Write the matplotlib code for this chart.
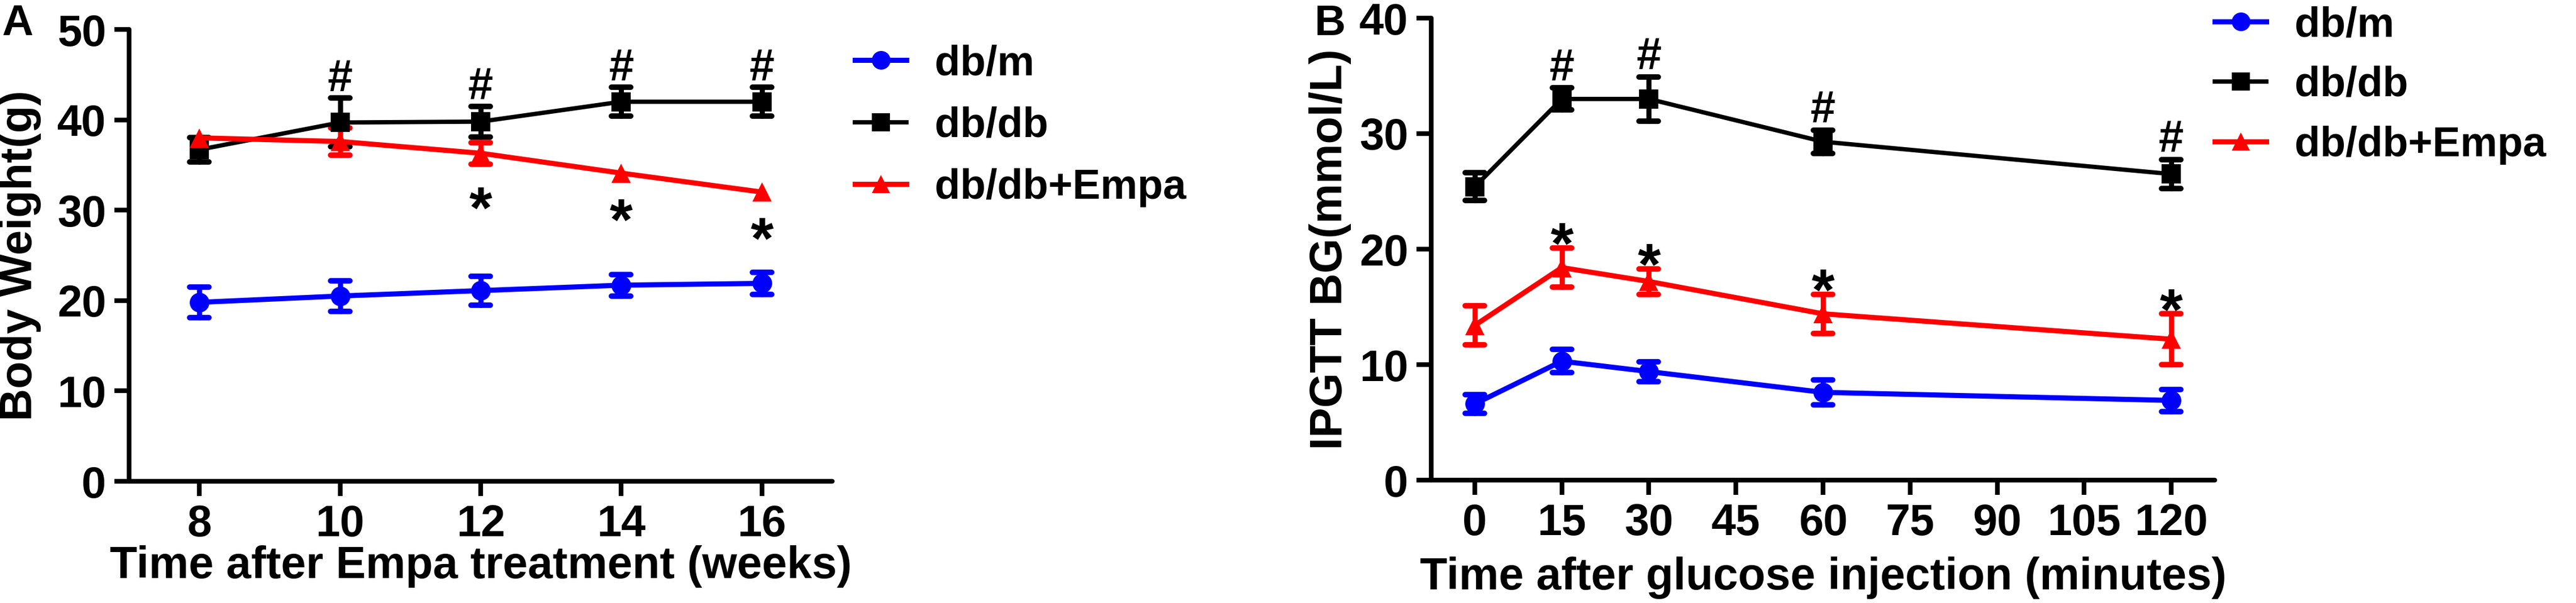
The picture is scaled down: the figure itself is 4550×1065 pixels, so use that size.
import matplotlib
matplotlib.use('Agg')
import matplotlib.pyplot as plt
from matplotlib.markers import MarkerStyle

# panel A: body weight (g), mean and sem
weeks = [8, 10, 12, 14, 16]
bw_dbm = [19.8, 20.5, 21.1, 21.7, 21.9]
bw_dbm_sem = [1.7, 1.7, 1.6, 1.2, 1.2]
bw_dbdb = [36.7, 39.7, 39.8, 42.0, 42.0]
bw_dbdb_sem = [1.35, 2.7, 1.7, 1.6, 1.6]
bw_empa = [38.0, 37.6, 36.3, 34.1, 32.0]
bw_empa_sem = [0.3, 1.5, 1.2, 0.3, 0.3]
hash_A = [10, 12, 14, 16]
star_A = [12, 14, 16]

# panel B: IPGTT blood glucose (mmol/L)
minutes = [0, 15, 30, 60, 120]
bg_dbm = [6.6, 10.3, 9.4, 7.6, 6.9]
bg_dbm_sem = [0.8, 1.0, 0.85, 1.1, 0.95]
bg_dbdb = [25.4, 33.0, 33.0, 29.3, 26.5]
bg_dbdb_sem = [1.2, 0.95, 1.9, 1.0, 1.25]
bg_empa = [13.4, 18.4, 17.2, 14.4, 12.2]
bg_empa_sem = [1.7, 1.7, 1.1, 1.7, 2.2]
hash_B = [15, 30, 60, 120]
star_B = [15, 30, 60, 120]

labels = ['db/m', 'db/db', 'db/db+Empa']
colors = ['#0000ff', '#000000', '#ff0000']
markers = ['o', 's', '^']
widths = [6.5, 5.5, 6.5]

plt.rcParams['font.family'] = ['Liberation Sans', 'DejaVu Sans']
plt.rcParams['font.weight'] = 'bold'
plt.rcParams['axes.labelweight'] = 'bold'

W, H = 4550, 1065
fig = plt.figure(figsize=(W / 100, H / 100), dpi=100)
axA = fig.add_axes([228 / W, 1 - 850 / H, (1470 - 228) / W, (850 - 52) / H])
axB = fig.add_axes([2528 / W, 1 - 848 / H, (3912 - 2528) / W, (848 - 32) / H])


def draw_series(ax, x, y, err, i):
    # like prism: bars shorter than the symbol are not drawn
    show = [e > 0.5 for e in err]
    line, caps, bars = ax.errorbar(x, y, yerr=err, color=colors[i], marker=markers[i],
                                   ms=25, lw=widths[i], elinewidth=6.5,
                                   capsize=24, capthick=7, errorevery=show)
    line.set_markeredgewidth(0)
    for c in caps:
        c.set_marker(MarkerStyle('_', capstyle='round'))
        c.set_markersize(24)
        c.set_markeredgewidth(7)
        c.set_markeredgecolor(colors[i])
    for b in bars:
        b.set_capstyle('round')
    return line


def style_axis(ax):
    for s in ['top', 'right']:
        ax.spines[s].set_visible(False)
    for s in ['left', 'bottom']:
        ax.spines[s].set_linewidth(6)
        ax.spines[s].set_capstyle('round')
    ax.tick_params(direction='out', length=19, width=6, labelsize=56, pad=10)


def mark(ax, text, x, y, dy, va, size):
    ax.annotate(text, (x, y), xytext=(0, dy), textcoords='offset points',
                ha='center', va=va, fontsize=size, fontweight='bold')


def add_legend(ax, handles, left_px, top_px, spacing):
    ax.legend(handles=handles, labels=labels, loc='upper left',
              bbox_to_anchor=(left_px / W, 1 - top_px / H),
              bbox_transform=fig.transFigure, frameon=False, borderpad=0,
              borderaxespad=0, prop={'size': 53, 'weight': 'bold'},
              handlelength=1.24, handletextpad=0.68, labelspacing=spacing,
              markerscale=0.95)


# panel A
hA = [draw_series(axA, weeks, bw_dbm, bw_dbm_sem, 0),
      draw_series(axA, weeks, bw_dbdb, bw_dbdb_sem, 1),
      draw_series(axA, weeks, bw_empa, bw_empa_sem, 2)]
style_axis(axA)
axA.set_xlim(7, 17)
axA.set_ylim(0, 50)
axA.set_xticks(weeks)
axA.set_yticks(range(0, 51, 10))
axA.set_xlabel('Time after Empa treatment (weeks)', fontsize=57, labelpad=0)
axA.set_ylabel('Body Weight(g)', fontsize=57, labelpad=20)
for xv in hash_A:
    i = weeks.index(xv)
    mark(axA, '#', xv, bw_dbdb[i] + bw_dbdb_sem[i], 9, 'baseline', 57)
for xv in star_A:
    i = weeks.index(xv)
    mark(axA, '*', xv, bw_empa[i] - bw_empa_sem[i], -27, 'top', 75)
add_legend(axA, hA, 1510, 78, 0.55)

# panel B
hB = [draw_series(axB, minutes, bg_dbm, bg_dbm_sem, 0),
      draw_series(axB, minutes, bg_dbdb, bg_dbdb_sem, 1),
      draw_series(axB, minutes, bg_empa, bg_empa_sem, 2)]
style_axis(axB)
axB.set_xlim(-7.5, 127.5)
axB.set_ylim(0, 40)
axB.set_xticks(range(0, 121, 15))
axB.set_yticks(range(0, 41, 10))
axB.set_xlabel('Time after glucose injection (minutes)', fontsize=57, labelpad=16)
axB.set_ylabel('IPGTT BG(mmol/L)', fontsize=57, labelpad=10)
for xv in hash_B:
    i = minutes.index(xv)
    mark(axB, '#', xv, bg_dbdb[i] + bg_dbdb_sem[i], 10, 'baseline', 57)
for xv in star_B:
    i = minutes.index(xv)
    mark(axB, '*', xv, bg_empa[i] + bg_empa_sem[i], -20, 'baseline', 75)
add_legend(axB, hB, 3912, 10, 0.5)

fig.text(3 / W, 1 - 62 / H, 'A', fontsize=55, fontweight='bold', ha='left', va='baseline')
fig.text(2322 / W, 1 - 62 / H, 'B', fontsize=55, fontweight='bold', ha='left', va='baseline')

fig.savefig('out.png', dpi=100)
